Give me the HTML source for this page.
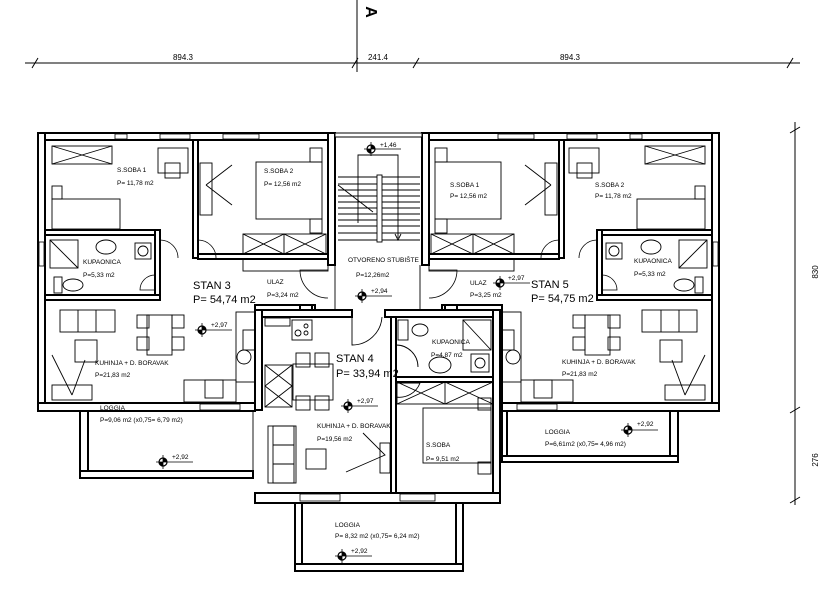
<!DOCTYPE html>
<html><head><meta charset="utf-8"><style>
html,body{margin:0;padding:0;background:#fff;}
svg{display:block}
text{font-family:"Liberation Sans",sans-serif;fill:#000}
.s{font-size:6.5px}
.b{font-size:11px}
</style></head><body>
<svg width="837" height="603" viewBox="0 0 837 603" xmlns="http://www.w3.org/2000/svg">
<defs>
<g id="mk"><circle cx="0" cy="0" r="4" fill="#fff" stroke="#000" stroke-width="1.2"/><path d="M0,0 L0,-4 A4,4 0 0 1 4,0 Z M0,0 L0,4 A4,4 0 0 1 -4,0 Z" fill="#000"/><line x1="-7" y1="0" x2="30" y2="0" stroke="#000" stroke-width="0.8"/><line x1="0" y1="-7" x2="0" y2="7" stroke="#000" stroke-width="0.8"/></g>
<g id="unit" fill="#fff" stroke="#000" stroke-width="2">
 <rect x="38" y="133" width="297" height="7"/>
 <rect x="38" y="133" width="7" height="277"/>
 <rect x="38" y="403" width="217" height="8"/>
 <rect x="328" y="133" width="7" height="132"/>
 <rect x="115" y="134" width="12" height="5" stroke-width="0.8"/>
 <rect x="160" y="134" width="30" height="5" stroke-width="0.8"/>
 <rect x="223" y="134" width="36" height="5" stroke-width="0.8"/>
 <rect x="39" y="242" width="5" height="24" stroke-width="0.8"/>
 <rect x="200" y="404" width="40" height="6" stroke-width="0.8"/>
 <rect x="193" y="140" width="5" height="118"/>
 <rect x="198" y="254" width="130" height="5"/>
 <rect x="45" y="230" width="115" height="5"/>
 <rect x="155" y="230" width="5" height="70"/>
 <rect x="45" y="295" width="115" height="5"/>
 <rect x="255" y="308" width="7" height="102"/>
 <rect x="255" y="305" width="60" height="5"/>
 <rect x="300" y="305" width="12" height="12"/>
 <g fill="none" stroke-width="0.8">
  <path d="M160,258 L160,240 A18,18 0 0 1 178,258"/>
  <path d="M198,258 L198,240 A18,18 0 0 1 216,258"/>
  <path d="M155,290 L140,290 A15,15 0 0 1 155,275"/>
  <path d="M328,270 L300,270 A28,28 0 0 0 328,298"/>
 </g>
 <g fill="none" stroke-width="0.9">
  <rect x="52" y="146" width="60" height="18"/><path d="M52,146 L112,164 M112,146 L52,164"/>
  <rect x="52" y="199" width="68" height="30"/><rect x="52" y="186" width="10" height="13"/>
  <rect x="158" y="148" width="30" height="25"/><rect x="165" y="163" width="15" height="15"/>
  <rect x="256" y="162" width="66" height="57"/><rect x="310" y="148" width="12" height="14"/><rect x="310" y="219" width="12" height="14"/>
  <rect x="243" y="234" width="83" height="20"/><path d="M243,234 L284,254 L326,234 M243,254 L284,234 L326,254 M284,234 V254"/>
  <rect x="243" y="259" width="85" height="12"/>
  <rect x="200" y="163" width="12" height="52"/>
  <path d="M206,185 L232,165 M206,185 L232,205"/>
  <rect x="50" y="240" width="28" height="28"/><path d="M50,240 L78,268"/>
  <ellipse cx="106" cy="247" rx="10" ry="7"/>
  <rect x="135" y="243" width="16" height="16"/><circle cx="143" cy="251" r="5"/>
  <ellipse cx="73" cy="285" rx="10" ry="6"/><rect x="54" y="277" width="8" height="16"/>
  <rect x="60" y="310" width="55" height="22"/><path d="M78,310 V332 M96,310 V332"/>
  <rect x="75" y="340" width="22" height="22"/>
  <rect x="147" y="315" width="25" height="40"/>
  <rect x="137" y="315" width="12" height="13"/><rect x="172" y="315" width="12" height="13"/>
  <rect x="137" y="337" width="12" height="13"/><rect x="172" y="337" width="12" height="13"/>
  <rect x="236" y="312" width="19" height="70"/><rect x="243" y="330" width="12" height="20"/>
  <circle cx="244" cy="357" r="7"/>
  <rect x="184" y="380" width="52" height="22"/><rect x="205" y="380" width="18" height="18"/>
  <rect x="52" y="385" width="40" height="15"/>
  <path d="M52,355 L72,395 M72,395 L85,360"/>
 </g>
</g>
</defs>

<g stroke="#000" stroke-width="1">
 <line x1="25" y1="63" x2="800" y2="63"/>
 <line x1="357" y1="0" x2="357" y2="72"/>
 <path d="M32,68 L38,58 M352,68 L358,58 M413,68 L419,58 M787,68 L793,58"/>
 <line x1="795" y1="122" x2="795" y2="505"/>
 <path d="M790,133 L800,127 M790,413 L800,407 M790,503 L800,497"/>
</g>
<text x="183" y="60" style="font-size:8px" text-anchor="middle">894.3</text>
<text x="378" y="60" style="font-size:8px" text-anchor="middle">241.4</text>
<text x="570" y="60" style="font-size:8px" text-anchor="middle">894.3</text>
<text transform="translate(366,12) rotate(90)" style="font-size:16px;font-weight:bold" text-anchor="middle">A</text>
<text transform="translate(818,272) rotate(-90)" style="font-size:8px" text-anchor="middle">830</text>
<text transform="translate(818,460) rotate(-90)" style="font-size:8px" text-anchor="middle">276</text>

<use href="#unit"/>
<use href="#unit" transform="translate(757,0) scale(-1,1)"/>

<g fill="#fff" stroke="#000" stroke-width="2">
 <rect x="335" y="133" width="87" height="4" stroke-width="1"/>
 <rect x="262" y="310" width="90" height="7"/>
 <rect x="385" y="310" width="115" height="7"/>
 <rect x="493" y="310" width="7" height="193"/>
 <rect x="255" y="493" width="245" height="10"/>
 <rect x="391" y="317" width="5" height="176"/>
 <rect x="396" y="377" width="97" height="5"/>
 <rect x="300" y="494" width="40" height="7" stroke-width="0.8"/>
 <rect x="400" y="494" width="35" height="7" stroke-width="0.8"/>
 <rect x="80" y="411" width="8" height="67"/>
 <rect x="80" y="471" width="173" height="7"/>
 <rect x="295" y="503" width="7" height="68"/>
 <rect x="456" y="503" width="7" height="68"/>
 <rect x="295" y="564" width="168" height="7"/>
 <rect x="502" y="411" width="5" height="51"/>
 <rect x="670" y="411" width="8" height="51"/>
 <rect x="502" y="456" width="176" height="6"/>
</g>
<g fill="none" stroke="#000" stroke-width="0.9">
 <line x1="253" y1="411" x2="253" y2="478"/>
 <path d="M338,177 H420 M338,184 H420 M338,190 H420 M338,196 H420 M338,202 H420 M338,208 H420 M338,214 H420 M338,220 H420 M338,226 H420 M338,233 H420 M338,240 H420"/>
 <rect x="377" y="175" width="5" height="67" fill="#fff"/>
 <path d="M358,223 V155 H398 V238 M395,234 L398,240 L401,234"/>
 <path d="M338,185 L373,212"/>
 <line x1="420" y1="265" x2="420" y2="310"/><line x1="335" y1="265" x2="335" y2="310"/>
 <path d="M352,317 L352,345 A30,30 0 0 0 382,317"/>
 <rect x="265" y="318" width="25" height="8"/><rect x="292" y="320" width="20" height="20"/><circle cx="298" cy="333" r="3"/><circle cx="306" cy="326" r="2"/><circle cx="306" cy="333" r="2"/>
 <rect x="265" y="365" width="27" height="42"/><path d="M265,365 L292,386 L265,407 M292,365 L265,386 L292,407"/>
 <rect x="293" y="364" width="40" height="36"/>
 <rect x="296" y="353" width="14" height="14"/><rect x="315" y="353" width="14" height="14"/>
 <rect x="296" y="396" width="14" height="14"/><rect x="315" y="396" width="14" height="14"/>
 <rect x="273" y="426" width="21" height="57"/><rect x="268" y="426" width="28" height="57"/>
 <path d="M273,445 H294 M273,464 H294"/>
 <rect x="306" y="449" width="20" height="20"/>
 <rect x="380" y="443" width="10" height="30"/><path d="M363,433 L385,455 L346,472"/>
 <path d="M396,397 A22,22 0 0 0 420,383 L396,383"/>
 <rect x="397" y="382" width="96" height="22"/><path d="M397,382 L445,404 L493,382 M397,404 L445,382 L493,404 M445,382 V404"/>
 <rect x="423" y="408" width="68" height="55"/><rect x="478" y="398" width="13" height="12"/><rect x="478" y="462" width="13" height="12"/>
 <rect x="463" y="320" width="28" height="30"/><path d="M463,320 L491,350"/>
 <rect x="471" y="354" width="18" height="18"/><circle cx="480" cy="363" r="5"/>
 <ellipse cx="440" cy="365" rx="11" ry="8"/>
 <ellipse cx="420" cy="330" rx="8" ry="6"/><rect x="398" y="320" width="10" height="20"/>
 <path d="M396,345 A22,22 0 0 1 418,367"/>
</g>

<use href="#mk" x="371" y="149"/><use href="#mk" x="362" y="296"/>
<use href="#mk" x="202" y="330"/><use href="#mk" x="500" y="283"/>
<use href="#mk" x="348" y="406"/><use href="#mk" x="163" y="462"/>
<use href="#mk" x="342" y="556"/><use href="#mk" x="628" y="430"/>

<g class="s" style="font-size:6.5px">
<text x="117" y="172">S.SOBA 1</text><text x="117" y="185">P= 11,78 m2</text>
<text x="264" y="173">S.SOBA 2</text><text x="264" y="186">P= 12,56 m2</text>
<text x="83" y="264">KUPAONICA</text><text x="83" y="277">P=5,33 m2</text>
<text x="267" y="284">ULAZ</text><text x="267" y="297">P=3,24 m2</text>
<text x="348" y="262">OTVORENO STUBIŠTE</text><text x="356" y="277">P=12,26m2</text>
<text x="380" y="147">+1,46</text><text x="371" y="293">+2,94</text>
<text x="211" y="327">+2,97</text><text x="508" y="280">+2,97</text>
<text x="95" y="365">KUHINJA + D. BORAVAK</text><text x="95" y="377">P=21,83 m2</text>
<text x="100" y="410">LOGGIA</text><text x="100" y="422">P=9,06 m2 (x0,75= 6,79 m2)</text><text x="172" y="459">+2,92</text>
<text x="357" y="403">+2,97</text>
<text x="317" y="428">KUHINJA + D. BORAVAK</text><text x="317" y="441">P=19,56 m2</text>
<text x="432" y="344">KUPAONICA</text><text x="431" y="357">P=4,87 m2</text>
<text x="426" y="447">S.SOBA</text><text x="426" y="461">P= 9,51 m2</text>
<text x="335" y="527">LOGGIA</text><text x="335" y="538">P= 8,32 m2 (x0,75= 6,24 m2)</text><text x="351" y="553">+2,92</text>
<text x="450" y="187">S.SOBA 1</text><text x="450" y="198">P= 12,56 m2</text>
<text x="595" y="187">S.SOBA 2</text><text x="595" y="198">P= 11,78 m2</text>
<text x="634" y="263">KUPAONICA</text><text x="634" y="276">P=5,33 m2</text>
<text x="470" y="285">ULAZ</text><text x="470" y="297">P=3,25 m2</text>
<text x="562" y="364">KUHINJA + D. BORAVAK</text><text x="562" y="376">P=21,83 m2</text>
<text x="545" y="434">LOGGIA</text><text x="545" y="446">P=6,61m2 (x0,75= 4,96 m2)</text><text x="637" y="426">+2,92</text>
</g>
<g class="b" style="font-size:11px">
<text x="193" y="289">STAN 3</text><text x="193" y="303">P= 54,74 m2</text>
<text x="336" y="362">STAN 4</text><text x="336" y="377">P= 33,94 m2</text>
<text x="531" y="288">STAN 5</text><text x="531" y="302">P= 54,75 m2</text>
</g>
</svg>
</body></html>
